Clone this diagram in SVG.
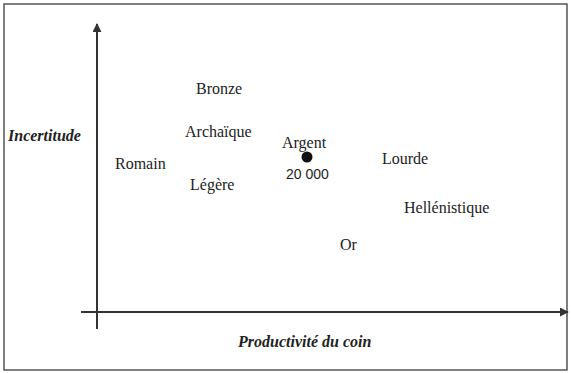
<svg xmlns="http://www.w3.org/2000/svg" width="571" height="373" viewBox="0 0 571 373">
<style>
.lbl{font-family:"Liberation Serif","Times New Roman",serif;font-size:16px;fill:#222}
.ax{font-family:"Liberation Serif","Times New Roman",serif;font-size:16px;font-weight:bold;font-style:italic;fill:#222}
.num{font-family:"Liberation Sans",Arial,sans-serif;font-size:14px;fill:#222}
.axis{stroke:#333;stroke-width:2;fill:none}
</style>
<defs>
<marker id="ah" viewBox="0 0 10 10" refX="9" refY="5" markerWidth="4.5" markerHeight="4.5" orient="auto" markerUnits="strokeWidth">
<path d="M0,0 L10,5 L0,10 z" fill="#333"/>
</marker>
</defs>
<rect x="0" y="0" width="571" height="373" fill="#fff"/>
<rect x="4" y="4" width="563" height="366" fill="none" stroke="#555" stroke-width="1.5"/>
<g id="connectors">
<line class="axis" x1="97" y1="329" x2="97" y2="24" marker-end="url(#ah)"/>
<line class="axis" x1="81" y1="312" x2="568" y2="312" marker-end="url(#ah)"/>
</g>
<g id="label-incertitude"><text class="ax" x="8" y="141">Incertitude</text></g>
<g id="label-productivite"><text class="ax" x="238" y="347">Productivité du coin</text></g>
<g id="n-bronze"><text class="lbl" x="196" y="94">Bronze</text></g>
<g id="n-archaique"><text class="lbl" x="185" y="137">Archaïque</text></g>
<g id="n-argent">
<text class="lbl" x="282" y="148">Argent</text>
<circle cx="307" cy="157" r="5.5" fill="#111"/>
<text class="num" x="286" y="179">20 000</text>
</g>
<g id="n-romain"><text class="lbl" x="115" y="169">Romain</text></g>
<g id="n-legere"><text class="lbl" x="190" y="190">Légère</text></g>
<g id="n-lourde"><text class="lbl" x="382" y="164">Lourde</text></g>
<g id="n-hellenistique"><text class="lbl" x="404" y="213">Hellénistique</text></g>
<g id="n-or"><text class="lbl" x="340" y="250">Or</text></g>
</svg>
